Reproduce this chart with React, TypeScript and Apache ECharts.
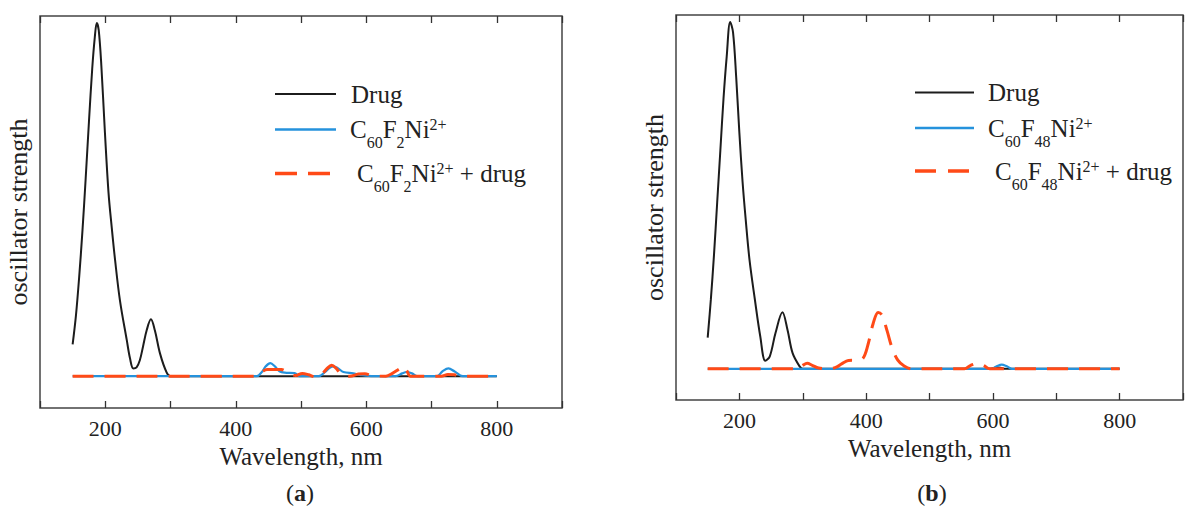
import React, { useEffect, useRef } from "react";
import * as echarts from "echarts";

// ---- data (wavelength nm, oscillator strength, arbitrary units) ----
const drugA: [number, number][] = [
  [150, 0.09], [155, 0.17], [160, 0.28], [165, 0.41], [170, 0.56], [175, 0.72], [180, 0.87],
  [184, 0.96], [187, 1.0], [190, 0.98], [194, 0.88], [199.5, 0.69], [205, 0.52], [210, 0.42],
  [215, 0.33], [222.5, 0.215], [233, 0.102], [238, 0.05], [243, 0.022], [248, 0.025],
  [253, 0.045], [258, 0.085], [263.5, 0.13], [270, 0.161], [276, 0.13], [284, 0.064],
  [294, 0.011], [300, 0], [800, 0],
];
const niA: [number, number][] = [
  [150, 0], [432, 0], [440, 0.012], [446, 0.028], [453, 0.037], [460, 0.028], [467, 0.014],
  [475, 0.01], [490, 0.009], [498, 0], [527, 0], [537, 0.012], [544, 0.024], [550, 0.028],
  [557, 0.022], [565, 0.012], [580, 0.008], [590, 0.004], [611, 0], [645, 0], [655, 0.008],
  [662, 0.012], [670, 0.008], [678, 0], [708, 0], [717, 0.014], [726, 0.022], [735, 0.014],
  [748, 0], [800, 0],
];
const mixA: [number, number][] = [
  [150, 0], [430, 0], [440, 0.012], [448, 0.019], [470, 0.019], [480, 0.01], [492, 0.002],
  [502, 0.008], [512, 0.004], [522, -0.002], [532, 0.006], [540, 0.022], [547, 0.031],
  [554, 0.022], [562, 0.005], [575, 0], [588, 0.006], [598, 0.007], [608, 0.002], [630, 0],
  [640, 0.008], [650, 0.02], [657, 0.028], [662, 0.016], [668, 0], [715, 0], [725, 0.005],
  [735, 0.004], [745, 0], [800, 0],
];
const drugB: [number, number][] = [
  [150, 0.09], [155, 0.2], [160, 0.33], [165, 0.48], [170, 0.63], [175, 0.78], [180, 0.9],
  [185.5, 1.0], [190, 0.97], [195, 0.84], [200, 0.68], [205, 0.54], [210, 0.43], [216, 0.314],
  [224.5, 0.199], [233, 0.093], [241, 0.023], [248, 0.036], [257, 0.103], [268, 0.163],
  [276, 0.112], [284, 0.045], [295, 0.007], [300, 0], [595, 0], [605, 0.004], [612, 0.003],
  [620, 0], [800, 0],
];
const niB: [number, number][] = [
  [150, 0], [598, 0], [606, 0.007], [614, 0.012], [622, 0.007], [630, 0], [800, 0],
];
const mixB: [number, number][] = [
  [150, 0], [292, 0], [300, 0.01], [307, 0.016], [315, 0.01], [325, 0.002], [340, 0],
  [352, 0.004], [362, 0.015], [372, 0.024], [385, 0.025], [395, 0.03], [403, 0.07],
  [411, 0.13], [419, 0.162], [425, 0.155], [433, 0.11], [441, 0.06], [450, 0.025],
  [460, 0.008], [472, 0], [555, 0], [565, 0.01], [575, 0.015], [585, 0.01], [595, 0], [800, 0],
];

const xTickLabels = [200, 400, 600, 800];
const seriesNames = ["Drug", "C60F2Ni2+", "C60F2Ni2+ + drug", "C60F48Ni2+", "C60F48Ni2+ + drug"];
const panelLabels = ["a", "b"];

const FONT = "'Liberation Serif', 'Times New Roman', serif";
const TXT = "#222";
const BLACK = "#1c1c1c";
const BLUE = "#2592dc";
const RED = "#ff4a17";

const rich = {
  n: { fontSize: 25, fontFamily: FONT, color: TXT, lineHeight: 42, verticalAlign: "middle" },
  s: { fontSize: 16, fontFamily: FONT, color: TXT, lineHeight: 16, verticalAlign: "bottom" },
  p: { fontSize: 16, fontFamily: FONT, color: TXT, lineHeight: 16, verticalAlign: "top", padding: [8, 0, 0, 0] },
};

function legendText(x: number, y: number, text: string) {
  return {
    type: "text",
    x,
    y,
    style: { text, rich, align: "left", verticalAlign: "middle", fontFamily: FONT, fontSize: 25, fill: TXT },
  };
}
function legendLine(x1: number, x2: number, y: number, color: string, w: number, dash?: number[]) {
  return {
    type: "line",
    shape: { x1, y1: y, x2, y2: y },
    style: { stroke: color, lineWidth: w, lineDash: dash },
  };
}

export default function App() {
  const ref = useRef<HTMLDivElement>(null);
  useEffect(() => {
    if (!ref.current) return;
    const chart = echarts.init(ref.current, undefined, { renderer: "svg" });

    const xBottom = (gridIndex: number) => ({
      type: "value",
      gridIndex,
      min: 100,
      max: 900,
      interval: 100,
      position: "bottom",
      name: "Wavelength, nm",
      nameLocation: "middle",
      nameGap: 30,
      nameTextStyle: { fontFamily: FONT, fontSize: 25, color: TXT },
      axisLine: { show: false, onZero: false },
      axisTick: { show: true, inside: true, length: 7, lineStyle: { color: "#333", width: 1.3 } },
      axisLabel: {
        fontFamily: FONT,
        fontSize: 22,
        color: TXT,
        margin: 9,
        formatter: (v: number) => (xTickLabels.indexOf(v) >= 0 ? String(v) : ""),
      },
      splitLine: { show: false },
    });
    const xTop = (gridIndex: number) => ({
      type: "value",
      gridIndex,
      min: 100,
      max: 900,
      interval: 100,
      position: "top",
      axisLine: { show: false, onZero: false },
      axisTick: { show: true, inside: true, length: 7, lineStyle: { color: "#333", width: 1.3 } },
      axisLabel: { show: false },
      splitLine: { show: false },
    });
    const yAx = (gridIndex: number) => ({
      type: "value",
      gridIndex,
      min: -0.09,
      max: 1.02,
      name: "oscillator strength",
      nameLocation: "middle",
      nameGap: 9,
      nameTextStyle: { fontFamily: FONT, fontSize: 26, color: TXT },
      axisLine: { show: false },
      axisTick: { show: false },
      axisLabel: { show: false },
      splitLine: { show: false },
    });
    const line = (name: string, data: [number, number][], xi: number, yi: number, color: string, w: number, dash?: number[]) => ({
      type: "line",
      name,
      data,
      xAxisIndex: xi,
      yAxisIndex: yi,
      smooth: 0.35,
      symbol: "none",
      showSymbol: false,
      lineStyle: { color, width: w, type: dash ? dash : "solid" },
      z: dash ? 4 : 3,
    });

    chart.setOption({
      animation: false,
      backgroundColor: "#ffffff",
      grid: [
        { left: 40, top: 16, width: 522, height: 392, show: true, borderColor: "#444", borderWidth: 1.5, backgroundColor: "transparent" },
        { left: 676, top: 15, width: 520, height: 385, show: true, borderColor: "#444", borderWidth: 1.5, backgroundColor: "transparent" },
      ],
      xAxis: [xBottom(0), xTop(0), xBottom(1), xTop(1)],
      yAxis: [yAx(0), yAx(1)],
      series: [
        line(seriesNames[0], drugA, 0, 0, BLACK, 2),
        line(seriesNames[1], niA, 0, 0, BLUE, 2.2),
        line(seriesNames[2], mixA, 0, 0, RED, 3, [21, 11]),
        line(seriesNames[0], drugB, 2, 1, BLACK, 2),
        line(seriesNames[3], niB, 2, 1, BLUE, 2.2),
        line(seriesNames[4], mixB, 2, 1, RED, 3, [21, 11]),
      ],
      graphic: [
        legendLine(275, 336, 94, BLACK, 2.2),
        legendLine(275, 336, 129.5, BLUE, 2.4),
        legendLine(275, 330, 173.5, RED, 3.5, [22, 11]),
        legendText(351, 94, "{n|Drug}"),
        legendText(350, 129.5, "{n|C}{s|60}{n|F}{s|2}{n|Ni}{p|2+}"),
        legendText(357, 173.5, "{n|C}{s|60}{n|F}{s|2}{n|Ni}{p|2+}{n| + drug}"),
        legendLine(915, 974, 92.5, BLACK, 2.2),
        legendLine(915, 974, 128, BLUE, 2.4),
        legendLine(915, 969, 171, RED, 3.5, [21, 12]),
        legendText(988, 92.5, "{n|Drug}"),
        legendText(988, 128, "{n|C}{s|60}{n|F}{s|48}{n|Ni}{p|2+}"),
        legendText(995, 171, "{n|C}{s|60}{n|F}{s|48}{n|Ni}{p|2+}{n| + drug}"),
        {
          type: "text",
          x: 300,
          y: 493,
          style: {
            text: "({b|" + panelLabels[0] + "})",
            rich: { b: { fontWeight: "bold", fontFamily: FONT, fontSize: 24, fill: TXT, color: TXT } },
            fontFamily: FONT, fontSize: 24, fill: TXT, align: "center", verticalAlign: "middle",
          },
        },
        {
          type: "text",
          x: 932,
          y: 493,
          style: {
            text: "({b|" + panelLabels[1] + "})",
            rich: { b: { fontWeight: "bold", fontFamily: FONT, fontSize: 24, fill: TXT, color: TXT } },
            fontFamily: FONT, fontSize: 24, fill: TXT, align: "center", verticalAlign: "middle",
          },
        },
      ],
    });
    return () => chart.dispose();
  }, []);
  return <div ref={ref} style={{ position: "fixed", left: 0, top: 0, width: 1186, height: 510, background: "#fff" }} />;
}
